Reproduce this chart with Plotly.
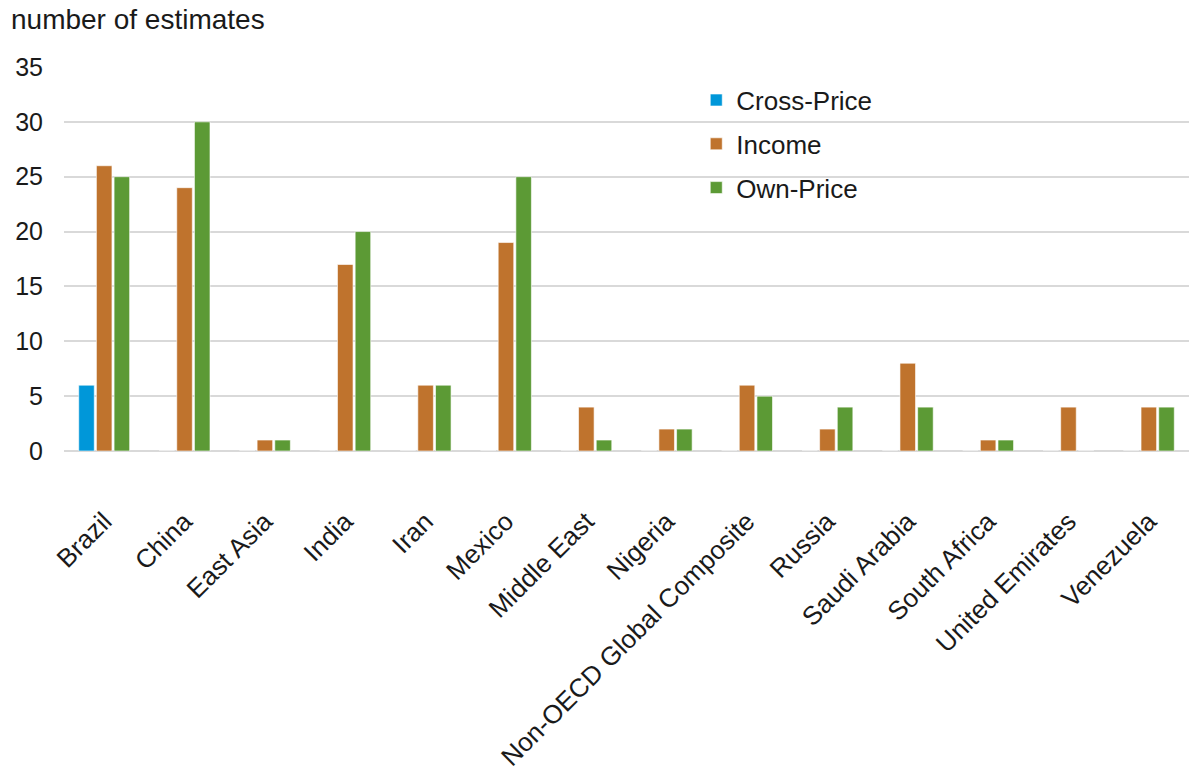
import plotly.graph_objects as go

regions = ["Brazil", "China", "East Asia", "India", "Iran", "Mexico", "Middle East",
           "Nigeria", "Non-OECD Global Composite", "Russia", "Saudi Arabia",
           "South Africa", "United Emirates", "Venezuela"]
cross_price = [6, 0, 0, 0, 0, 0, 0, 0, 0, 0, 0, 0, 0, 0]
income = [26, 24, 1, 17, 6, 19, 4, 2, 6, 2, 8, 1, 4, 4]
own_price = [25, 30, 1, 20, 6, 25, 1, 2, 5, 4, 4, 1, 0, 4]

y_ticks = [0, 5, 10, 15, 20, 25, 30, 35]

series = [
    ("Cross-Price", cross_price, "#0097d9"),
    ("Income", income, "#bf732d"),
    ("Own-Price", own_price, "#5c9a35"),
]

fig = go.Figure()
for i, (name, vals, color) in enumerate(series):
    fig.add_trace(go.Bar(
        x=regions, y=vals, name=name, legendgroup=str(i),
        marker=dict(color=color, line=dict(color="rgba(255,255,255,0.6)", width=1)),
    ))

font = "Liberation Sans, Arial, sans-serif"
fig.update_layout(
    width=1189, height=772,
    margin=dict(l=64, r=0, t=67, b=321),
    plot_bgcolor="white", paper_bgcolor="white",
    barmode="group", bargap=0.34, bargroupgap=0.12,
    font=dict(family=font, size=25, color="#1a1a1a"),
    showlegend=True,
    legend=dict(x=0.562, y=0.975, xanchor="left", yanchor="top",
                font=dict(size=26), tracegroupgap=7,
                bgcolor="rgba(0,0,0,0)", itemwidth=30),
    xaxis=dict(tickangle=-45, showgrid=False, showline=False, ticks="",
               tickfont=dict(size=26), ticklabelstandoff=49),
    yaxis=dict(range=[0, 35], tickvals=y_ticks, showgrid=True,
               gridcolor="#d9d9d9", gridwidth=2, zeroline=True,
               zerolinecolor="#d9d9d9", zerolinewidth=2, showline=False,
               ticks="", tickfont=dict(size=25), ticklabelstandoff=20),
    annotations=[dict(text="number of estimates", xref="paper", yref="paper",
                      x=0, y=1, xshift=-55, yshift=48, xanchor="left", yanchor="middle",
                      showarrow=False, font=dict(size=28))],
)

fig.write_html("out.html")
